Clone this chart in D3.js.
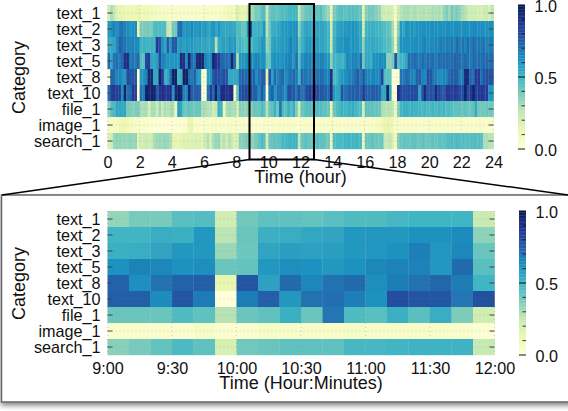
<!DOCTYPE html>
<html><head><meta charset="utf-8">
<script src="https://cdn.jsdelivr.net/npm/d3@7"></script>
<style>
html,body{margin:0;padding:0;background:#fff}
svg{display:block}
text{font-family:"Liberation Sans",Arial,sans-serif;fill:#111}
</style></head><body><svg id="c" width="568" height="411"></svg>
<script>
const categories=["text_1","text_2","text_3","text_5","text_8","text_10","file_1","image_1","search_1"];
const hourTicks=[0,2,4,6,8,10,12,14,16,18,20,22,24];
const minuteTicks=[[0,"9:00"],[30,"9:30"],[60,"10:00"],[90,"10:30"],[120,"11:00"],[150,"11:30"],[180,"12:00"]];
const legendTicks=[0,0.5,1];
const legendMinor=[0.1,0.2,0.3,0.4,0.6,0.7,0.8,0.9];
const palette=["#ffffd9","#edf8b1","#c7e9b4","#7fcdbb","#41b6c4","#1d91c0","#225ea8","#253494","#081d58"];

// full day, one value per 10 minutes (12 values per line = 2 hours)
const day_text_1=[
.22,.30,.26,.18,.14,.14,.13,.12,.12,.11,.12,.13,
.10,.11,.10,.10,.09,.08,.07,.07,.06,.07,.06,.05,
.05,.05,.05,.06,.05,.05,.05,.05,.06,.05,.05,.05,
.06,.05,.06,.05,.05,.05,.06,.08,.09,.11,.10,.10,
.20,.14,.14,.15,.24,.30,.34,.39,.39,.45,.46,.22,
.40,.44,.44,.43,.45,.47,.47,.49,.50,.50,.50,.24,
.36,.40,.42,.44,.44,.45,.43,.46,.40,.36,.33,.13,
.38,.42,.45,.46,.44,.44,.46,.46,.45,.44,.42,.15,
.36,.40,.40,.38,.36,.34,.24,.22,.22,.22,.18,.05,
.22,.28,.30,.30,.30,.28,.30,.28,.28,.29,.28,.27,
.28,.30,.29,.30,.28,.34,.38,.32,.40,.36,.38,.34,
.30,.28,.24,.22,.22,.21,.21,.20,.23,.24,.20,.27];
const day_text_2=[
.60,.62,.66,.63,.68,.70,.66,.64,.60,.62,.64,.15,
.38,.38,.38,.39,.38,.47,.47,.48,.47,.46,.25,.25,
.40,.40,.70,.72,.60,.62,.60,.65,.60,.60,.62,.58,
.60,.56,.58,.62,.55,.62,.56,.55,.55,.56,.55,.55,
.47,.47,.42,.44,.60,.80,.50,.50,.53,.52,.60,.27,
.42,.52,.53,.55,.56,.60,.60,.60,.62,.62,.64,.35,
.50,.55,.57,.56,.56,.58,.56,.56,.56,.54,.50,.22,
.50,.55,.57,.58,.60,.60,.60,.62,.60,.58,.55,.22,
.50,.52,.52,.52,.50,.50,.48,.46,.44,.42,.30,.08,
.35,.60,.55,.62,.60,.62,.58,.62,.62,.63,.62,.63,
.62,.63,.63,.62,.63,.62,.63,.63,.62,.63,.63,.62,
.62,.63,.62,.63,.64,.64,.63,.63,.62,.62,.62,.63];
const day_text_3=[
.55,.55,.56,.65,.75,.72,.70,.66,.65,.67,.64,.64,
.50,.52,.50,.50,.52,.50,.86,.80,.62,.55,.76,.60,
.78,.78,.58,.60,.58,.60,.58,.60,.58,.56,.58,.55,
.56,.54,.56,.58,.28,.54,.56,.58,.56,.60,.58,.60,
.46,.50,.47,.45,.50,.48,.52,.53,.56,.60,.60,.33,
.41,.56,.58,.57,.58,.60,.60,.62,.67,.61,.65,.42,
.52,.56,.60,.60,.60,.60,.58,.56,.56,.54,.50,.25,
.52,.58,.60,.60,.63,.64,.60,.62,.60,.60,.55,.35,
.54,.54,.55,.54,.54,.52,.50,.48,.46,.45,.34,.10,
.42,.62,.62,.62,.62,.63,.63,.64,.62,.65,.66,.63,
.64,.64,.66,.65,.68,.66,.68,.66,.70,.66,.72,.66,
.70,.65,.72,.68,.72,.68,.70,.68,.70,.66,.68,.68];
const day_text_5=[
.72,.55,.70,.72,.68,.72,.90,.92,.68,.70,.68,.72,
.46,.45,.82,.84,.56,.55,.58,.80,.66,.64,.62,.60,
.60,.62,.60,.92,.90,.65,.95,.72,.68,.92,.95,.95,
.66,.62,.64,.95,.88,.86,.74,.72,.72,.70,.95,.72,
.30,.60,.60,.62,.65,.66,.62,.66,.65,.62,.63,.42,
.43,.60,.63,.62,.60,.62,.65,.66,.66,.60,.72,.45,
.62,.65,.66,.66,.66,.66,.64,.66,.65,.62,.60,.35,
.50,.50,.52,.50,.55,.65,.62,.66,.66,.62,.73,.40,
.55,.55,.54,.62,.62,.64,.62,.63,.35,.35,.40,.80,
.45,.50,.50,.55,.72,.70,.72,.70,.68,.72,.68,.72,
.70,.72,.68,.72,.70,.72,.72,.70,.72,.74,.72,.72,
.70,.72,.70,.68,.72,.70,.72,.70,.72,.72,.70,.72];
const day_text_8=[
.02,.72,.72,.65,.66,.62,.60,.80,.78,.78,.78,.02,
.60,.62,.66,.95,.94,.55,.54,.96,.86,.52,.55,.70,
.96,.96,.50,.52,.98,.98,.72,.68,.74,.60,.58,.02,
.02,.58,.60,.78,.82,.80,.76,.80,.78,.55,.55,.55,
.56,.72,.74,.72,.70,.74,.74,.63,.70,.74,.75,.14,
.78,.57,.72,.65,.70,.72,.63,.68,.70,.73,.68,.50,
.72,.70,.68,.70,.70,.72,.70,.72,.70,.66,.66,.90,
.48,.50,.56,.60,.62,.64,.66,.68,.72,.76,.68,.78,
.66,.65,.64,.66,.64,.66,.82,.46,.45,.44,.02,.02,
.02,.70,.68,.72,.70,.66,.64,.74,.76,.66,.64,.80,
.78,.70,.68,.64,.62,.66,.66,.72,.76,.76,.74,.66,
.68,.92,.92,.72,.70,.86,.86,.70,.78,.80,.78,.78];
const day_text_10=[
.72,.85,.86,.84,.85,.62,.96,.70,.72,.86,.84,.01,
.70,.68,.96,.95,.97,.95,.75,.88,.90,.86,.88,.90,
.60,.95,.96,.94,.66,.64,.95,.76,.74,.76,.74,.01,
.01,.70,.85,.72,.96,.72,.90,.92,.88,.90,.92,.04,
.42,.78,.80,.82,.78,.80,.75,.75,.64,.77,.68,.00,
.68,.75,.60,.70,.71,.67,.62,.80,.77,.77,.69,.79,
.70,.72,.82,.84,.82,.84,.80,.78,.76,.74,.72,.92,
.60,.55,.56,.78,.70,.72,.75,.76,.74,.76,.74,.86,
.75,.74,.76,.75,.76,.74,.56,.55,.98,.55,.01,.01,
.90,.82,.80,.78,.80,.82,.80,.80,.55,.78,.92,.78,
.80,.76,.92,.82,.78,.76,.86,.86,.84,.86,.84,.80,
.80,.96,.80,.86,.96,.84,.86,.88,.84,.86,.60,.60];
const day_file_1=[
.36,.46,.48,.56,.55,.54,.56,.38,.38,.36,.38,.38,
.30,.30,.30,.20,.30,.30,.22,.32,.24,.30,.28,.30,
.30,.10,.58,.55,.42,.42,.44,.42,.40,.42,.42,.30,
.30,.28,.28,.22,.25,.52,.50,.10,.30,.32,.30,.30,
.20,.36,.36,.34,.36,.36,.42,.42,.42,.47,.44,.28,
.42,.44,.52,.42,.69,.47,.45,.52,.45,.53,.38,.22,
.42,.44,.46,.46,.46,.48,.46,.46,.44,.44,.42,.14,
.42,.46,.48,.52,.50,.50,.52,.54,.50,.48,.46,.20,
.45,.44,.44,.42,.43,.42,.30,.28,.28,.28,.26,.10,
.36,.50,.52,.52,.50,.52,.50,.50,.50,.48,.50,.48,
.48,.50,.48,.50,.48,.50,.46,.48,.46,.44,.44,.44,
.42,.44,.42,.42,.44,.54,.40,.40,.40,.42,.40,.40];
const day_image_1=[
.08,.07,.07,.08,.10,.12,.12,.10,.08,.08,.06,.06,
.03,.05,.04,.03,.03,.02,.02,.02,.01,.02,.01,.02,
.02,.02,.02,.01,.03,.05,.14,.13,.04,.06,.04,.04,
.04,.05,.04,.05,.06,.05,.05,.04,.05,.05,.06,.05,
.06,.05,.06,.05,.05,.05,.04,.04,.04,.03,.06,.03,
.03,.06,.05,.05,.05,.06,.05,.05,.05,.05,.04,.02,
.04,.05,.05,.05,.05,.04,.05,.05,.05,.04,.05,.07,
.05,.05,.05,.04,.05,.05,.05,.05,.04,.05,.05,.06,
.05,.05,.06,.06,.07,.08,.10,.13,.14,.13,.12,.05,
.06,.05,.05,.05,.05,.05,.05,.05,.04,.05,.05,.05,
.05,.05,.05,.05,.05,.04,.05,.05,.05,.05,.05,.05,
.05,.05,.05,.05,.04,.05,.06,.06,.05,.05,.05,.06];
const day_search_1=[
.20,.22,.33,.35,.34,.33,.34,.33,.34,.33,.34,.16,
.22,.22,.24,.22,.23,.30,.32,.33,.32,.34,.33,.30,
.15,.15,.14,.16,.18,.18,.17,.18,.19,.18,.18,.17,
.22,.28,.20,.30,.33,.34,.24,.28,.22,.28,.24,.18,
.20,.36,.36,.38,.37,.36,.36,.39,.43,.48,.44,.20,
.40,.42,.44,.44,.44,.49,.49,.50,.51,.51,.51,.25,
.42,.44,.44,.43,.43,.44,.46,.44,.44,.42,.40,.10,
.46,.48,.48,.48,.50,.50,.50,.50,.50,.50,.48,.10,
.42,.42,.44,.42,.42,.40,.42,.24,.24,.26,.18,.08,
.36,.42,.44,.42,.42,.44,.44,.42,.42,.44,.42,.42,
.42,.44,.42,.44,.44,.44,.46,.46,.48,.46,.48,.46,
.46,.44,.46,.46,.46,.46,.46,.46,.30,.30,.28,.27];
const daySeries=[day_text_1,day_text_2,day_text_3,day_text_5,day_text_8,day_text_10,day_file_1,day_image_1,day_search_1];

// 9:00-12:00 detail, one value per 10 minutes
const zoom_text_1=[.34,.39,.39,.45,.46,.22,.40,.44,.44,.43,.45,.47,.47,.49,.50,.50,.50,.24];
const zoom_text_2=[.50,.50,.53,.52,.60,.27,.42,.52,.53,.55,.56,.60,.60,.60,.62,.62,.64,.35];
const zoom_text_3=[.52,.53,.56,.60,.60,.33,.41,.56,.58,.57,.58,.60,.60,.62,.67,.61,.65,.42];
const zoom_text_5=[.62,.66,.65,.62,.63,.42,.43,.60,.63,.62,.60,.62,.65,.66,.66,.60,.72,.45];
const zoom_text_8=[.74,.63,.70,.74,.75,.14,.78,.57,.72,.65,.70,.72,.63,.68,.70,.73,.68,.50];
const zoom_text_10=[.75,.75,.64,.77,.68,.00,.68,.75,.60,.70,.71,.67,.62,.80,.77,.77,.69,.79];
const zoom_file_1=[.42,.42,.42,.47,.44,.28,.42,.44,.52,.42,.69,.47,.45,.52,.45,.53,.38,.22];
const zoom_image_1=[.04,.04,.04,.03,.06,.03,.03,.06,.05,.05,.05,.06,.05,.05,.05,.05,.04,.02];
const zoom_search_1=[.36,.39,.43,.48,.44,.20,.40,.42,.44,.44,.44,.49,.49,.50,.51,.51,.51,.25];
const zoomSeries=[zoom_text_1,zoom_text_2,zoom_text_3,zoom_text_5,zoom_text_8,zoom_text_10,zoom_file_1,zoom_image_1,zoom_search_1];

const svg=d3.select("#c");
const defs=svg.append("defs");
const sh=defs.append("filter").attr("id","sh").attr("x","-5%").attr("y","-5%").attr("width","110%").attr("height","115%");
sh.append("feDropShadow").attr("dx",0).attr("dy",3).attr("stdDeviation",2.5).attr("flood-color","#000").attr("flood-opacity",.45);
const bl=defs.append("filter").attr("id","bl").attr("x","-1%").attr("y","-1%").attr("width","102%").attr("height","102%");
bl.append("feGaussianBlur").attr("stdDeviation",.4);
const color=d3.scaleLinear().domain(d3.range(9).map(i=>i/8)).range(palette).clamp(true);
const FS=16.2, TS=18;

// inset panel
svg.append("rect").attr("x",1.5).attr("y",195).attr("width",580).attr("height",207)
  .attr("fill","#fff").attr("stroke","#666").attr("stroke-width",1.5).attr("filter","url(#sh)");

function heat(cfg){
  const g=svg.append("g");
  const x=d3.scaleLinear().domain(cfg.dom).range([cfg.x0,cfg.x1]);
  const y=d3.scaleBand().domain(categories).range([cfg.y0,cfg.y1]);
  const cells=g.append("g").attr("filter","url(#bl)");
  categories.forEach((c,ri)=>{
    cells.append("g").selectAll("rect").data(cfg.series[ri]).join("rect")
      .attr("x",(d,i)=>x(cfg.dom[0]+i*cfg.step))
      .attr("y",y(c))
      .attr("width",x(cfg.step)-x(0)+0.3)
      .attr("height",y.bandwidth()+0.2)
      .attr("fill",d=>color(d));
  });
  // dotted grid
  g.append("g").selectAll("line").data(categories).join("line")
    .attr("x1",cfg.x0).attr("x2",cfg.x1).attr("y1",d=>y(d)+y.bandwidth()/2).attr("y2",d=>y(d)+y.bandwidth()/2)
    .attr("stroke","#888").attr("stroke-opacity",.55).attr("stroke-width",.7).attr("stroke-dasharray","1 3");
  g.append("g").selectAll("line").data(cfg.ticks).join("line")
    .attr("x1",d=>x(d)).attr("x2",d=>x(d)).attr("y1",cfg.y0).attr("y2",cfg.y1)
    .attr("stroke","#888").attr("stroke-opacity",.55).attr("stroke-width",.7).attr("stroke-dasharray","1 3");
  // tick marks, both sides
  g.append("g").selectAll("line").data(categories).join("line")
    .attr("x1",cfg.x0).attr("x2",cfg.x0+5).attr("y1",d=>y(d)+y.bandwidth()/2).attr("y2",d=>y(d)+y.bandwidth()/2)
    .attr("stroke","#444").attr("stroke-width",1);
  g.append("g").selectAll("line").data(categories).join("line")
    .attr("x1",cfg.x1-5).attr("x2",cfg.x1).attr("y1",d=>y(d)+y.bandwidth()/2).attr("y2",d=>y(d)+y.bandwidth()/2)
    .attr("stroke","#444").attr("stroke-width",1);
  // axes
  const ax=d3.axisBottom(x).tickValues(cfg.ticks).tickFormat(cfg.fmt).tickSize(0).tickPadding(0);
  const axG=g.append("g").attr("transform",`translate(0,${cfg.y1})`).call(ax);
  axG.select(".domain").remove();
  axG.selectAll("text").attr("y",cfg.tickBase-cfg.y1).attr("dy",null).attr("font-size",FS);
  axG.attr("font-family",null).attr("font-size",null);
  const ay=d3.axisLeft(y).tickSize(0).tickPadding(0);
  const ayG=g.append("g").attr("transform",`translate(${cfg.x0-7},0)`).call(ay);
  ayG.select(".domain").remove();
  ayG.selectAll("text").attr("dy",null).attr("y",5.5).attr("font-size",FS);
  ayG.attr("font-family",null).attr("font-size",null);
  g.append("text").attr("x",(cfg.x0+cfg.x1)/2).attr("y",cfg.titleBase).attr("text-anchor","middle").attr("font-size",TS).text(cfg.xTitle);
  g.append("text").attr("transform",`translate(24.5,${(cfg.y0+cfg.y1)/2+.5}) rotate(-90)`).attr("text-anchor","middle").attr("font-size",TS).text("Category");
  // legend
  const ly=d3.scaleLinear().domain([0,1]).range([cfg.y1,cfg.y0]);
  const bar=d3.range(0,100).map(i=>i/100);
  g.append("g").selectAll("rect").data(bar).join("rect")
    .attr("x",cfg.lx).attr("width",7).attr("y",d=>ly(d+.01)).attr("height",ly(0)-ly(.01)+.3).attr("fill",d=>color(d+.005));
  g.append("g").selectAll("line").data(legendMinor).join("line")
    .attr("x1",cfg.lx+3.5).attr("x2",cfg.lx+7).attr("y1",d=>ly(d)).attr("y2",d=>ly(d)).attr("stroke","#111").attr("stroke-width",.8);
  g.append("g").selectAll("line").data(legendTicks).join("line")
    .attr("x1",cfg.lx).attr("x2",cfg.lx+7).attr("y1",d=>ly(d)).attr("y2",d=>ly(d)).attr("stroke","#111").attr("stroke-width",1);
  g.append("g").selectAll("text").data(legendTicks).join("text")
    .attr("x",cfg.lx+16.5).attr("y",d=>ly(d)+6.5).attr("font-size",FS).text(d3.format(".1f"));
}

heat({series:daySeries,dom:[0,24],step:1/6,ticks:hourTicks,fmt:d=>d,x0:107.5,x1:493.5,y0:5,y1:149,
  tickBase:168,titleBase:183,xTitle:"Time (hour)",lx:518});
const mLabels=new Map(minuteTicks);
heat({series:zoomSeries,dom:[0,180],step:10,ticks:minuteTicks.map(d=>d[0]),fmt:d=>mLabels.get(d),x0:107.5,x1:494.5,y0:211,y1:355,
  tickBase:374,titleBase:389,xTitle:"Time (Hour:Minutes)",lx:519});

// selection box and connectors
const sel=[[249.5,4],[314,159.5]];
svg.append("rect").attr("x",sel[0][0]).attr("y",sel[0][1]).attr("width",sel[1][0]-sel[0][0]).attr("height",sel[1][1]-sel[0][1])
  .attr("fill","none").attr("stroke","#000").attr("stroke-width",2);
const link=d3.line();
svg.append("path").attr("d",link([[249.5,159.5],[2,195]])).attr("fill","none").attr("stroke","#000").attr("stroke-width",1.5);
svg.append("path").attr("d",link([[314,159.5],[568,195]])).attr("fill","none").attr("stroke","#000").attr("stroke-width",1.5);
</script></body></html>
